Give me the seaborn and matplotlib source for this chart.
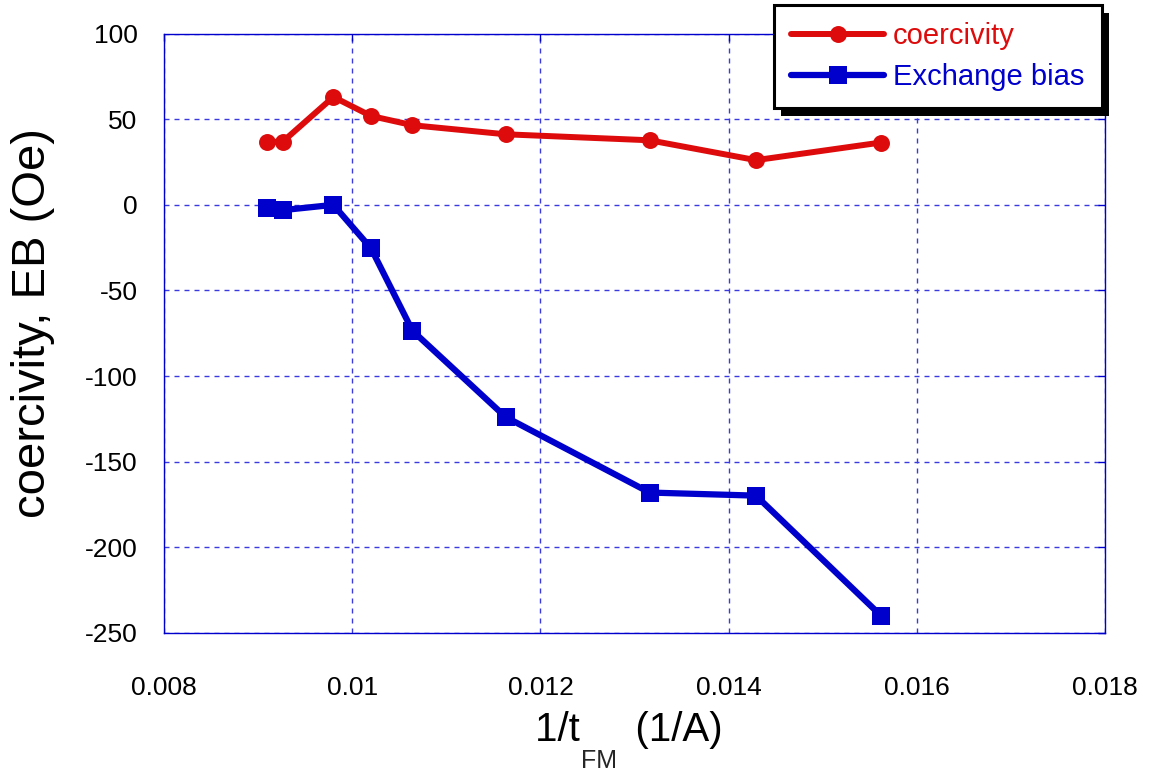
import numpy as np
import pandas as pd
import matplotlib
matplotlib.use('Agg')
import matplotlib.pyplot as plt
import seaborn as sns
from matplotlib.patches import Rectangle

# data
inv_t = [0.00909, 0.00926, 0.00980, 0.01020, 0.01064, 0.01163, 0.01316, 0.01429, 0.01562]
coercivity = [36.8, 36.8, 63.0, 51.9, 46.5, 41.2, 37.7, 26.1, 36.4]
exchange_bias = [-2.1, -3.1, 0.0, -25.4, -73.5, -123.9, -168.0, -169.8, -240.0]

x_ticks = [0.008, 0.01, 0.012, 0.014, 0.016, 0.018]
x_ticklabels = ['0.008', '0.01', '0.012', '0.014', '0.016', '0.018']
y_ticks = [-250, -200, -150, -100, -50, 0, 50, 100]

red = '#dd0b0b'
blue = '#0000cc'
grid_blue = '#3a3ae0'

sns.set_style('white')
plt.rcParams['font.family'] = ['Liberation Sans', 'DejaVu Sans']
plt.rcParams['axes.unicode_minus'] = False

df = pd.DataFrame({'x': inv_t, 'coercivity': coercivity, 'eb': exchange_bias})

fig = plt.figure(figsize=(11.5, 7.74), dpi=100)
ax = fig.add_axes([0.1426, 0.1822, 0.8184, 0.7744])

sns.lineplot(data=df, x='x', y='coercivity', ax=ax, color=red, linewidth=4.3,
             marker='o', markersize=12.2, markeredgewidth=0, label='coercivity', zorder=3)
sns.lineplot(data=df, x='x', y='eb', ax=ax, color=blue, linewidth=4.5,
             marker='s', markersize=13, markeredgewidth=0, label='Exchange bias', zorder=3)

ax.set_xlim(0.008, 0.018)
ax.set_ylim(-250, 100)
ax.set_xticks(x_ticks)
ax.set_xticklabels(x_ticklabels)
ax.set_yticks(y_ticks)
ax.grid(True, color=grid_blue, linestyle=(0, (3.6, 3.6)), linewidth=1)
ax.tick_params(direction='in', length=5, width=1, color=blue, labelsize=19,
               labelcolor='black', top=True, right=True)
ax.tick_params(axis='x', pad=31)
ax.tick_params(axis='y', pad=19)
for s in ax.spines.values():
    s.set_color(blue)
    s.set_linewidth(1)

xl = ax.set_xlabel('1/t     (1/A)', fontsize=29, color='black')
ax.xaxis.set_label_coords(0.494, -0.131)
ax.set_ylabel('coercivity, EB (Oe)', fontsize=34, color='black')
ax.yaxis.set_label_coords(-0.116, 0.517)

# legend lives on the figure so it can poke above the axes
handles, labels = ax.get_legend_handles_labels()
ax.get_legend().remove()
leg = fig.legend(handles, labels, loc='upper right', bbox_to_anchor=(1102 / 1150, 1 - 5 / 774),
                 bbox_transform=fig.transFigure, fontsize=21, handlelength=3.2,
                 frameon=True, fancybox=False, borderpad=0.6, labelspacing=0.42,
                 handletextpad=0.3, borderaxespad=0)
leg.get_frame().set_edgecolor('black')
leg.get_frame().set_linewidth(2.2)
leg.get_frame().set_alpha(1)
for txt, c in zip(leg.get_texts(), [red, blue]):
    txt.set_color(c)
leg.set_zorder(10)

fig.canvas.draw()

# subscript FM hung below the x label
ax.annotate('FM', xy=(0, 0), xycoords=xl, xytext=(46, 0), textcoords='offset pixels',
            fontsize=18, va='top', ha='left', annotation_clip=False)

# black drop shadow behind the legend box
bb = leg.get_window_extent()
shadow = Rectangle((bb.x0 + 7, bb.y0 - 8), bb.width, bb.height, transform=None,
                   facecolor='black', edgecolor='none', zorder=9)
fig.add_artist(shadow)

fig.savefig('out.png', dpi=100)
